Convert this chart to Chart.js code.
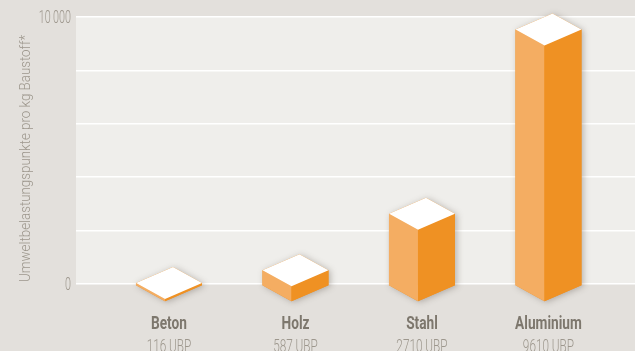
<!DOCTYPE html>
<html>
<head>
<meta charset="utf-8">
<script src="https://cdn.jsdelivr.net/npm/chart.js@4"></script>
<style>
  html, body { margin: 0; padding: 0; overflow: hidden; background: #e3e0dc; }
  #wrap { width: 635px; height: 362px; }
</style>
</head>
<body>
<div id="wrap"><canvas id="ubpChart"></canvas></div>
<script>
// Umweltbelastungspunkte je kg Baustoff
const materials = ['Beton', 'Holz', 'Stahl', 'Aluminium'];
const ubp = [116, 587, 2710, 9610];
const yTicks = [0, 10000];
const axisTitle = 'Umweltbelastungspunkte pro kg Baustoff*';

const family = 'Roboto, "DejaVu Sans Condensed", sans-serif';
const xMin = -0.735, xMax = 3.684;

function fmt(v) {
    // 10 000 with a thin space
    return String(v).replace(/\B(?=(\d{3})+(?!\d))/g, '\u2009');
}

// narrow text: the house font is a condensed face, so squeeze horizontally
function condensed(ctx, text, x, y, opt) {
    ctx.save();
    ctx.translate(x, y);
    if (opt.rotate) ctx.rotate(opt.rotate);
    ctx.scale(opt.k, 1);
    ctx.font = opt.font;
    ctx.fillStyle = opt.color;
    ctx.textAlign = opt.align || 'center';
    ctx.textBaseline = 'alphabetic';
    ctx.fillText(text, 0, 0);
    ctx.restore();
}

// background, plot area and the isometric boxes
const boxes = {
    id: 'boxes',
    beforeDraw(chart) {
        const { ctx, chartArea: a } = chart;
        ctx.save();
        ctx.fillStyle = '#e3e0dc';
        ctx.fillRect(0, 0, chart.width, chart.height);
        ctx.fillStyle = '#efeeeb';
        ctx.fillRect(a.left, a.top, a.right - a.left, a.bottom - a.top);
        ctx.restore();
    },
    afterDatasetsDraw(chart) {
        const ctx = chart.ctx;
        const w = 33, d = 16, s = 4;
        chart.getDatasetMeta(0).data.forEach(bar => {
            const cx = bar.x, top = bar.y + 2, base = bar.base + 2;
            const L = [cx - w, top], F = [cx - s, top + d], R = [cx + w, top], B = [cx + s, top - d];
            const Lb = [cx - w, base], Fb = [cx - s, base + d], Rb = [cx + w, base];

            const poly = (pts, fill) => {
                ctx.beginPath();
                ctx.moveTo(pts[0][0], pts[0][1]);
                pts.slice(1).forEach(p => ctx.lineTo(p[0], p[1]));
                ctx.closePath();
                ctx.fillStyle = fill;
                ctx.fill();
            };

            ctx.save();
            // soft shadow behind the box
            ctx.shadowColor = 'rgba(80, 70, 60, 0.35)';
            ctx.shadowBlur = 6;
            ctx.shadowOffsetX = 2;
            ctx.shadowOffsetY = 1;
            poly([B, R, Rb, Fb, Lb, L], '#ef9123');
            ctx.restore();

            ctx.save();
            poly([L, F, Fb, Lb], '#f4ad62');
            poly([F, R, Rb, Fb], '#ef9123');
            poly([L, B, R, F], '#ffffff');
            ctx.restore();
        });
    },
    afterDraw(chart) {
        const { ctx, chartArea: a, scales } = chart;

        // category names and values under the boxes
        materials.forEach((name, i) => {
            const x = scales.x.getPixelForValue(i);
            condensed(ctx, name, x, a.bottom + 45, { k: 0.72, font: `bold 19px ${family}`, color: '#7d776d' });
            condensed(ctx, ubp[i] + ' UBP', x, a.bottom + 68, { k: 0.62, font: `300 19px ${family}`, color: '#9d978d' });
        });

        // y tick labels
        yTicks.forEach(v => {
            const y = scales.y.getPixelForValue(v);
            condensed(ctx, fmt(v), a.left - 5, y + 6, { k: 0.6, font: `300 18px ${family}`, color: '#9d978d', align: 'right' });
        });

        // y axis title
        condensed(ctx, axisTitle, 30, (a.top + a.bottom) / 2 + 8, {
            k: 0.86, font: `300 15.5px ${family}`, color: '#9d978d', rotate: -Math.PI / 2
        });
    }
};

const ctx = document.getElementById('ubpChart');

const ubpChart = new Chart(ctx, {
    type: 'bar',
    data: {
        datasets: [{
            data: ubp.map((v, i) => ({ x: i, y: v })),
            backgroundColor: 'rgba(0,0,0,0)',
            borderWidth: 0
        }]
    },
    options: {
        responsive: true,
        maintainAspectRatio: false,
        animation: false,
        events: [],
        layout: { padding: { top: 17, right: 0, left: 0, bottom: 0 } },
        plugins: { legend: { display: false }, tooltip: { enabled: false } },
        scales: {
            x: {
                type: 'linear',
                min: xMin,
                max: xMax,
                offset: false,
                ticks: { display: false },
                grid: { display: false },
                border: { display: false },
                afterFit: s => { s.height = 78; }
            },
            y: {
                min: 0,
                max: 10000,
                ticks: { stepSize: 2000, display: false },
                grid: { color: '#ffffff', lineWidth: 1.5, drawTicks: false },
                border: { display: false },
                afterFit: s => { s.width = 76; }
            }
        }
    },
    plugins: [boxes]
});
</script>
</body>
</html>
